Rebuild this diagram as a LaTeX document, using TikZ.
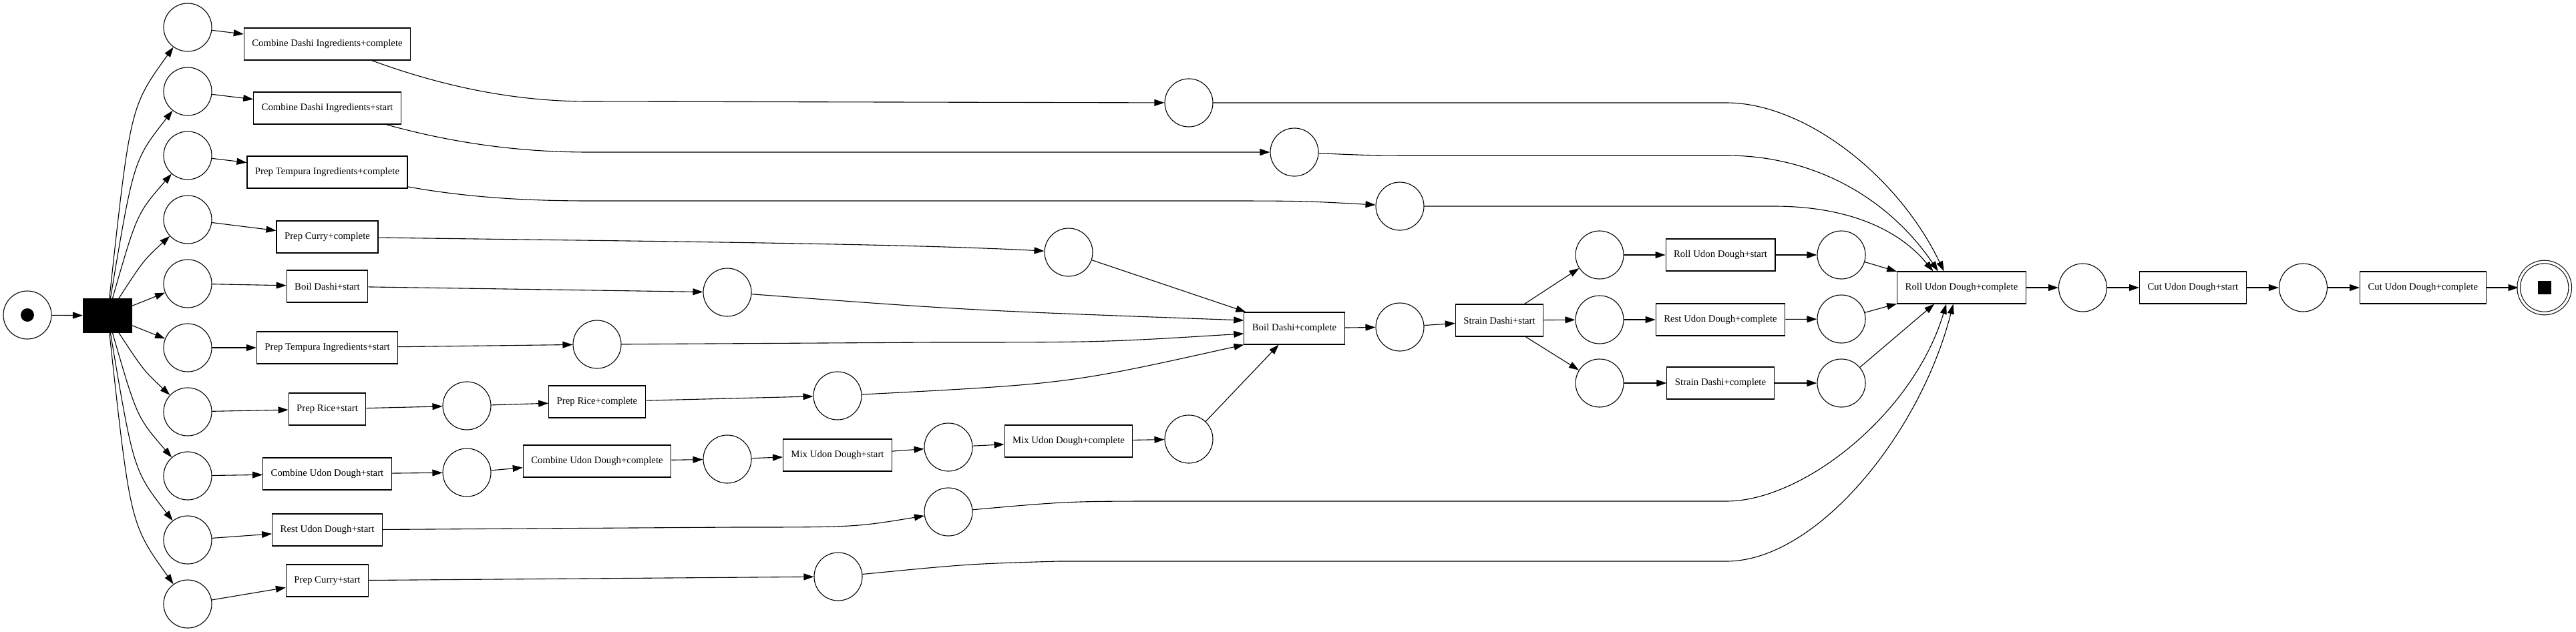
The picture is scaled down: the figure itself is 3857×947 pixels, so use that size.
\documentclass[tikz,border=0pt]{standalone}
\usepackage{fontspec}
\setmainfont{Liberation Serif}
\usetikzlibrary{positioning, arrows.meta}
\tikzset{
    place/.style={circle,draw,minimum size=72pt,inner sep=0pt},
    trans/.style={rectangle,draw,minimum height=48pt,inner xsep=12pt,inner ysep=0pt,font=\fontsize{14.8}{17}\selectfont},
    silent/.style={rectangle,draw,fill=black,minimum width=73pt,minimum height=50pt,inner sep=0pt},
    final/.style={circle,draw,double,double distance=3.5pt,minimum size=77pt,inner sep=0pt},
  }
\begin{document}
\begin{tikzpicture}[x=1pt,y=-1pt,>={Triangle[length=15pt,width=10pt]},line width=1.1pt,node distance=48pt]
		    \useasboundingbox (0,0) rectangle (3857,947);
		    % create the nodes
			    \node[place] (p0) at (41,472) {}; %start place
			    \fill (p0.center) circle [radius=10pt];
			    \node[silent] (tau) at (161,473) {};
			    \node[place] (p1) at (281,41) {};
			    \node[place] (p2) at (281,137) {};
			    \node[place] (p3) at (281,233) {};
			    \node[place] (p4) at (281,329) {};
			    \node[place] (p5) at (281,425) {};
			    \node[place] (p6) at (281,521) {};
			    \node[place] (p7) at (281,617) {};
			    \node[place] (p8) at (281,713) {};
			    \node[place] (p9) at (281,809) {};
			    \node[place] (p10) at (281,905) {};
			    \node[trans] (t1) at (490,66) {Combine Dashi Ingredients+complete};
			    \node[trans] (t2) at (490,162) {Combine Dashi Ingredients+start};
			    \node[trans] (t3) at (490,258) {Prep Tempura Ingredients+complete};
			    \node[trans] (t4) at (490,355) {Prep Curry+complete};
			    \node[trans] (t5) at (490,429) {Boil Dashi+start};
			    \node[trans] (t6) at (490,521) {Prep Tempura Ingredients+start};
			    \node[trans] (t7) at (490,613) {Prep Rice+start};
			    \node[trans] (t8) at (490,710) {Combine Udon Dough+start};
			    \node[trans] (t9) at (490,794) {Rest Udon Dough+start};
			    \node[trans] (t10) at (490,870) {Prep Curry+start};
			    \node[place] (pa) at (1780,154) {};
			    \node[place] (pb) at (1938,228) {};
			    \node[place] (pc) at (2096,309) {};
			    \node[place] (pd) at (1600,378) {};
			    \node[place] (pe) at (1089,438) {};
			    \node[place] (pf) at (894,516) {};
			    \node[place] (pg) at (699,608) {};
			    \node[trans] (tRice) at (894,602) {Prep Rice+complete};
			    \node[place] (ph) at (1254,593) {};
			    \node[place] (pi) at (699,708) {};
			    \node[trans] (tCudc) at (894,691) {Combine Udon Dough+complete};
			    \node[place] (pj) at (1089,688) {};
			    \node[trans] (tMuds) at (1254,682) {Mix Udon Dough+start};
			    \node[place] (pk) at (1420,670) {};
			    \node[trans] (tMudc) at (1600,661) {Mix Udon Dough+complete};
			    \node[place] (pl) at (1780,658) {};
			    \node[place] (pm) at (1420,767) {};
			    \node[place] (pn) at (1255,864) {};
			    \node[trans] (tBdc) at (1938,492) {Boil Dashi+complete};
			    \node[place] (po) at (2096,490) {};
			    \node[trans] (tSds) at (2245,480) {Strain Dashi+start};
			    \node[place] (pp1) at (2395,382) {};
			    \node[place] (pp2) at (2395,479) {};
			    \node[place] (pp3) at (2395,574) {};
			    \node[trans] (tRuds) at (2576,382) {Roll Udon Dough+start};
			    \node[trans] (tRestc) at (2576,479) {Rest Udon Dough+complete};
			    \node[trans] (tSdc) at (2576,574) {Strain Dashi+complete};
			    \node[place] (pq1) at (2757,382) {};
			    \node[place] (pq2) at (2757,478) {};
			    \node[place] (pq3) at (2757,574) {};
			    \node[trans] (tRollc) at (2937,431) {Roll Udon Dough+complete};
			    \node[place] (pr) [right =of tRollc] {};
			    \node[trans] (tCuts) [right =of pr] {Cut Udon Dough+start};
			    \node[place] (ps) [right =of tCuts] {};
			    \node[trans] (tCutc) [right =of ps] {Cut Udon Dough+complete};
			    \node[final] (pend) [right =of tCutc] {}; %end place
			    \fill ([shift={(-10pt,-10pt)}]pend.center) rectangle ++(20pt,20pt);
		    % connect them
			    \draw[->] (p0) -- (tau);
			    \draw[->] (tau) .. controls (195,160) .. (p1);
			    \draw[->] (tau) .. controls (200,240) .. (p2);
			    \draw[->] (tau) .. controls (205,320) .. (p3);
			    \draw[->] (tau) .. controls (215,390) .. (p4);
			    \draw[->] (tau) -- (p5);
			    \draw[->] (tau) -- (p6);
			    \draw[->] (tau) .. controls (215,555) .. (p7);
			    \draw[->] (tau) .. controls (205,625) .. (p8);
			    \draw[->] (tau) .. controls (200,705) .. (p9);
			    \draw[->] (tau) .. controls (195,785) .. (p10);
			    \draw[->] (p1) -- (t1);
			    \draw[->] (p2) -- (t2);
			    \draw[->] (p3) -- (t3);
			    \draw[->] (p4) -- (t4);
			    \draw[->] (p5) -- (t5);
			    \draw[->] (p6) -- (t6);
			    \draw[->] (p7) -- (t7);
			    \draw[->] (p8) -- (t8);
			    \draw[->] (p9) -- (t9);
			    \draw[->] (p10) -- (t10);
			    \draw[->] (t1) .. controls (650,125) and (760,152) .. (881,152) -- (pa);
			    \draw[->] (t2) .. controls (680,215) and (780,228) .. (881,228) -- (pb);
			    \draw[->] (t3) .. controls (700,296) and (790,301) .. (881,301) -- (1800,301) .. controls (1950,301) .. (pc);
			    \draw[->] (t4) .. controls (1000,362) and (1350,365) .. (pd);
			    \draw[->] (t5) -- (pe);
			    \draw[->] (t6) -- (pf);
			    \draw[->] (t7) -- (pg);
			    \draw[->] (pg) -- (tRice);
			    \draw[->] (tRice) -- (ph);
			    \draw[->] (t8) -- (pi);
			    \draw[->] (pi) -- (tCudc);
			    \draw[->] (tCudc) -- (pj);
			    \draw[->] (pj) -- (tMuds);
			    \draw[->] (tMuds) -- (pk);
			    \draw[->] (pk) -- (tMudc);
			    \draw[->] (tMudc) -- (pl);
			    \draw[->] (t9) -- (1100,790) .. controls (1280,790) .. (pm);
			    \draw[->] (t10) -- (pn);
			    % into Boil Dashi+complete
			    \draw[->] (pd) -- (tBdc);
			    \draw[->] (pe) .. controls (1450,465) .. (tBdc.171);
			    \draw[->] (pf) -- (1400,513) .. controls (1650,513) .. (tBdc.186);
			    \draw[->] (ph) .. controls (1600,575) .. (tBdc.198);
			    \draw[->] (pl) -- (tBdc);
			    \draw[->] (tBdc) -- (po);
			    \draw[->] (po) -- (tSds);
			    \draw[->] (tSds) -- (pp1);
			    \draw[->] (tSds) -- (pp2);
			    \draw[->] (tSds) -- (pp3);
			    \draw[->] (pp1) -- (tRuds);
			    \draw[->] (pp2) -- (tRestc);
			    \draw[->] (pp3) -- (tSdc);
			    \draw[->] (tRuds) -- (pq1);
			    \draw[->] (tRestc) -- (pq2);
			    \draw[->] (tSdc) -- (pq3);
			    % into Roll Udon Dough+complete
			    \draw[->] (pa) -- (2585,154) .. controls (2700,154) and (2840,260) .. (tRollc.137);
			    \draw[->] (pb) .. controls (2050,233) .. (2150,233) -- (2585,233) .. controls (2720,233) and (2830,300) .. (tRollc.145);
			    \draw[->] (pc) -- (2656,309) .. controls (2760,309) and (2840,340) .. (tRollc.150);
			    \draw[->] (pq1) -- (tRollc.166);
			    \draw[->] (pq2) -- (tRollc.194);
			    \draw[->] (pq3) -- (tRollc.211);
			    \draw[->] (pm) .. controls (1600,751) .. (1758,751) -- (2585,751) .. controls (2700,751) and (2865,620) .. (tRollc.227);
			    \draw[->] (pn) .. controls (1450,845) .. (1585,841) -- (2585,841) .. controls (2720,841) and (2875,650) .. (tRollc.243);
			    \draw[->] (tRollc) -- (pr);
			    \draw[->] (pr) -- (tCuts);
			    \draw[->] (tCuts) -- (ps);
			    \draw[->] (ps) -- (tCutc);
			    \draw[->] (tCutc) -- (pend);
			\end{tikzpicture}
\end{document}
